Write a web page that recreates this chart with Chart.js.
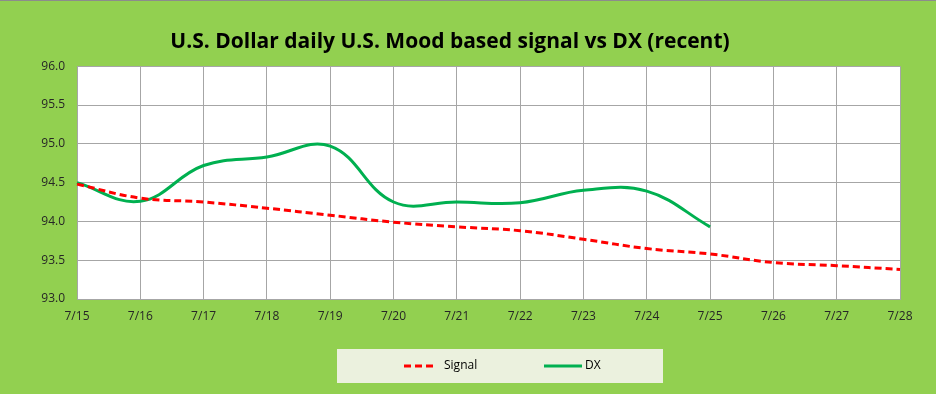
<!DOCTYPE html>
<html>
<head>
<meta charset="utf-8">
<script src="https://cdn.jsdelivr.net/npm/chart.js@4/dist/chart.umd.min.js"></script>
<style>
  html, body { margin: 0; padding: 0; background: #92D050; }
</style>
</head>
<body>
<canvas id="chart" width="936" height="394"></canvas>
<script>
// Chart data
const days = ['7/15', '7/16', '7/17', '7/18', '7/19', '7/20', '7/21', '7/22', '7/23', '7/24', '7/25', '7/26', '7/27', '7/28'];
const signalValues = [94.48, 94.30, 94.25, 94.17, 94.08, 93.99, 93.93, 93.88, 93.77, 93.65, 93.58, 93.47, 93.43, 93.38];
const dxValues = [94.50, 94.26, 94.72, 94.83, 94.97, 94.25, 94.25, 94.24, 94.40, 94.39, 93.93, null, null, null];
const yTicks = [93.0, 93.5, 94.0, 94.5, 95.0, 95.5, 96.0];

// White plot area, top rule and the legend box with its two entries
const decor = {
  id: 'decor',
  beforeDraw(chart) {
    const c = chart.ctx;
    const a = chart.chartArea;
    c.save();
    c.fillStyle = '#FFFFFF';
    c.fillRect(a.left, a.top, a.right - a.left, a.bottom - a.top);
    c.fillStyle = '#8C8C8C';
    c.fillRect(0, 0, chart.width, 1);
    c.fillStyle = '#EBF1DE';
    c.fillRect(337, 349, 326, 34);
    c.restore();
  },
  afterDraw(chart) {
    const c = chart.ctx;
    const entries = [
      { ds: chart.data.datasets[0], x0: 404, x1: 437, tx: 444 },
      { ds: chart.data.datasets[1], x0: 544, x1: 582, tx: 585 }
    ];
    const y = 366;
    c.save();
    entries.forEach(e => {
      c.strokeStyle = e.ds.borderColor;
      c.lineWidth = 3;
      c.setLineDash(e.ds.borderDash || []);
      c.beginPath();
      c.moveTo(e.x0, y);
      c.lineTo(e.x1, y);
      c.stroke();
      c.setLineDash([]);
      c.fillStyle = '#000000';
      c.font = '12px "Open Sans"';
      c.textBaseline = 'middle';
      c.fillText(e.ds.label, e.tx, y);
    });
    c.restore();
  }
};

const ctx = document.getElementById('chart').getContext('2d');
new Chart(ctx, {
  type: 'line',
  data: {
    labels: days,
    datasets: [{
      label: 'Signal',
      data: signalValues,
      borderColor: '#FF0000',
      backgroundColor: '#FF0000',
      borderWidth: 3,
      borderDash: [7, 4],
      pointRadius: 0,
      tension: 0.4,
      fill: false
    }, {
      label: 'DX',
      data: dxValues,
      borderColor: '#00B050',
      backgroundColor: '#00B050',
      borderWidth: 3,
      pointRadius: 0,
      tension: 0.4,
      fill: false
    }]
  },
  options: {
    responsive: false,
    animation: false,
    layout: { padding: { right: 36, left: 0, bottom: 0 } },
    scales: {
      x: {
        grid: { color: '#A6A6A6', drawTicks: false },
        border: { color: '#A6A6A6' },
        ticks: {
          color: '#262626',
          font: { family: 'Open Sans', size: 12 },
          padding: 10,
          maxRotation: 0,
          autoSkip: false
        },
        afterFit: (scale) => { scale.height = 95; }
      },
      y: {
        min: 93.0,
        max: 96.0,
        afterBuildTicks: (scale) => { scale.ticks = yTicks.map(v => ({ value: v })); },
        grid: { color: '#A6A6A6', drawTicks: false },
        border: { color: '#A6A6A6' },
        ticks: {
          color: '#262626',
          font: { family: 'Open Sans', size: 12 },
          padding: 12,
          callback: (v) => Number(v).toFixed(1)
        },
        afterFit: (scale) => { scale.width = 77; }
      }
    },
    plugins: {
      title: {
        display: true,
        text: 'U.S. Dollar daily U.S. Mood based signal vs DX (recent)',
        color: '#000000',
        font: { family: 'Open Sans', size: 21, weight: 'bold' },
        padding: { top: 29, bottom: 12 }
      },
      legend: { display: false },
      tooltip: { enabled: false }
    }
  },
  plugins: [decor]
});
</script>
</body>
</html>
